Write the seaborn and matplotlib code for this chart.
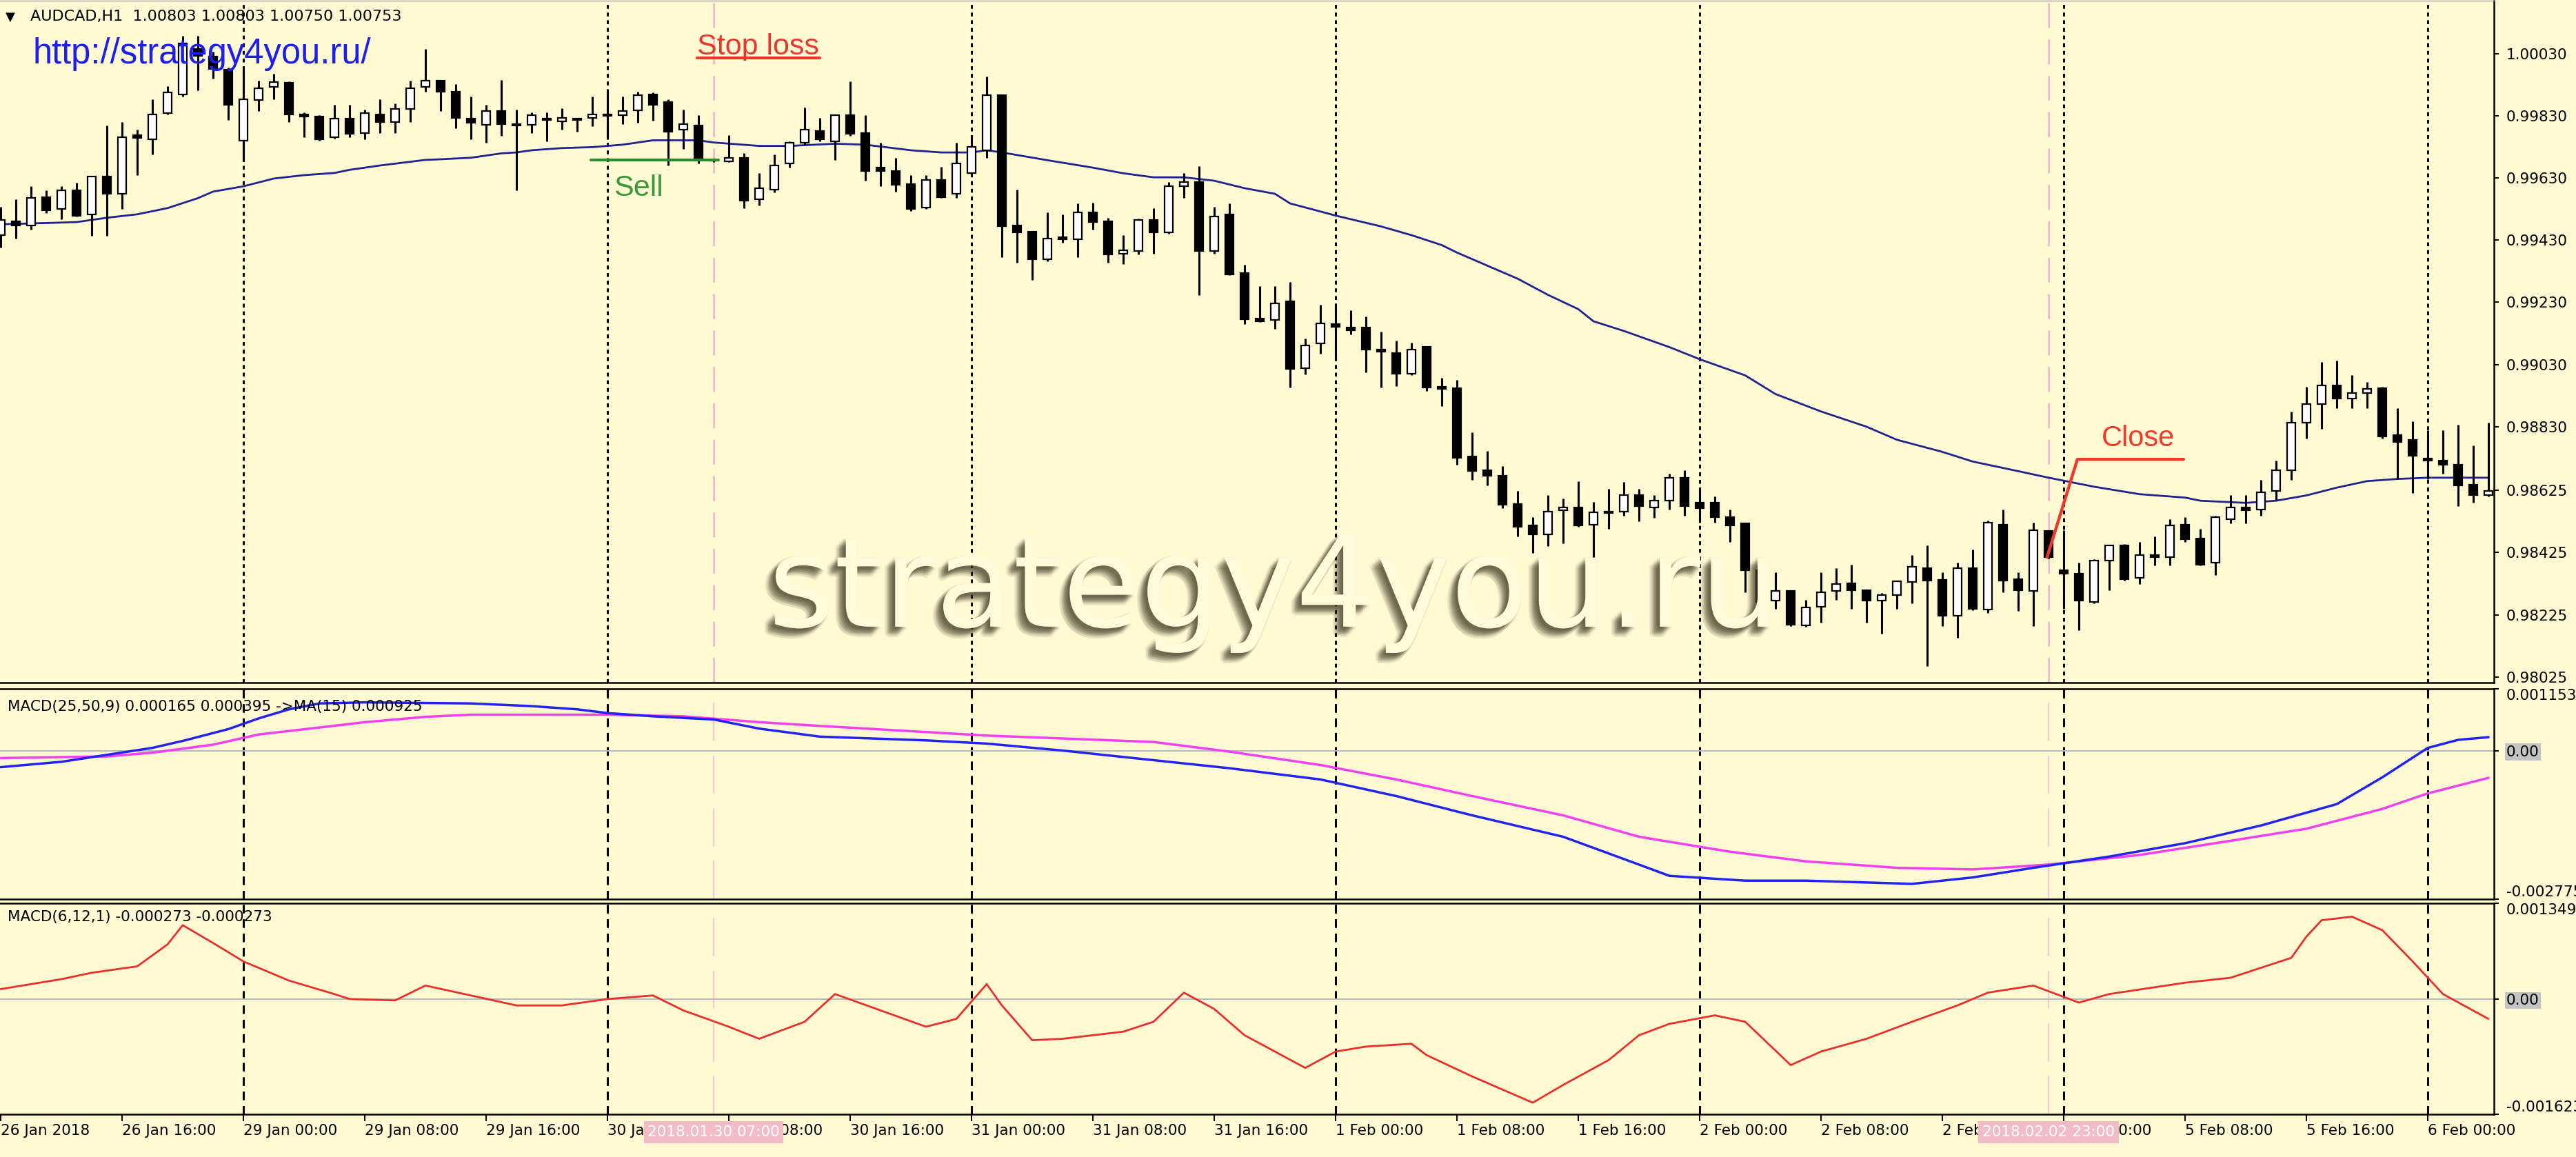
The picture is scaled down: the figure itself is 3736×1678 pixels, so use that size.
import numpy as np
import pandas as pd
import seaborn as sns
import matplotlib.pyplot as plt
import matplotlib.patheffects as pe

sns.set_theme(style="white")
plt.rcParams['font.family'] = ['DejaVu Sans']
plt.rcParams['lines.scale_dashes'] = False

W, H = 3736, 1678
BG = '#FFFAD3'

# AUDCAD H1 bars, bar 0 = 26 Jan 2018 08:00
opens = [0.99446, 0.99491, 0.99477, 0.99568, 0.99530, 0.99590, 0.99512, 0.99635, 0.99579, 0.99768,
         0.99754, 0.99838, 0.99898, 1.00044, 1.00020, 0.99978, 0.99750, 0.99880, 0.99922, 0.99936,
         0.99835, 0.99828, 0.99761, 0.99821, 0.99775, 0.99835, 0.99810, 0.99852, 0.99922, 0.99943,
         0.99908, 0.99821, 0.99800, 0.99845, 0.99803, 0.99800, 0.99821, 0.99813, 0.99821, 0.99824,
         0.99835, 0.99831, 0.99848, 0.99898, 0.99873, 0.99785, 0.99799, 0.99688, 0.99684, 0.99695,
         0.99562, 0.99593, 0.99677, 0.99744, 0.99782, 0.99747, 0.99831, 0.99775, 0.99663, 0.99652,
         0.99611, 0.99534, 0.99624, 0.99579, 0.99645, 0.99719, 0.99897, 0.99477, 0.99457, 0.99369,
         0.99439, 0.99432, 0.99519, 0.99491, 0.99386, 0.99394, 0.99495, 0.99456, 0.99604, 0.99617,
         0.99394, 0.99513, 0.99324, 0.99177, 0.99173, 0.99233, 0.99019, 0.99099, 0.99159, 0.99148,
         0.99148, 0.99079, 0.99068, 0.99001, 0.99086, 0.98959, 0.98953, 0.98735, 0.98690, 0.98673,
         0.98581, 0.98512, 0.98484, 0.98561, 0.98571, 0.98515, 0.98557, 0.98557, 0.98610, 0.98571,
         0.98592, 0.98666, 0.98585, 0.98585, 0.98539, 0.98519, 0.98368, 0.98270, 0.98301, 0.98190,
         0.98252, 0.98301, 0.98326, 0.98305, 0.98270, 0.98288, 0.98330, 0.98375, 0.98337, 0.98221,
         0.98375, 0.98242, 0.98515, 0.98340, 0.98301, 0.98494, 0.98368, 0.98357, 0.98266, 0.98399,
         0.98448, 0.98343, 0.98417, 0.98410, 0.98515, 0.98470, 0.98392, 0.98532, 0.98571, 0.98564,
         0.98623, 0.98690, 0.98844, 0.98903, 0.98963, 0.98921, 0.98939, 0.98953, 0.98802, 0.98788,
         0.98728, 0.98721, 0.98708, 0.98644, 0.98610]
highs = [0.99537, 0.99562, 0.99604, 0.99590, 0.99604, 0.99614, 0.99635, 0.99799, 0.99810, 0.99786,
         0.99884, 0.99926, 1.00086, 1.00086, 1.00037, 0.99985, 0.99985, 0.99943, 0.99964, 0.99940,
         0.99841, 0.99831, 0.99866, 0.99866, 0.99849, 0.99884, 0.99870, 0.99943, 1.00044, 0.99943,
         0.99932, 0.99891, 0.99866, 0.99946, 0.99849, 0.99841, 0.99841, 0.99855, 0.99824, 0.99891,
         0.99915, 0.99891, 0.99908, 0.99904, 0.99884, 0.99849, 0.99831, 0.99691, 0.99768, 0.99709,
         0.99646, 0.99705, 0.99747, 0.99856, 0.99824, 0.99835, 0.99940, 0.99831, 0.99744, 0.99695,
         0.99639, 0.99639, 0.99666, 0.99744, 0.99768, 0.99957, 0.99897, 0.99593, 0.99457, 0.99519,
         0.99513, 0.99548, 0.99551, 0.99502, 0.99446, 0.99499, 0.99533, 0.99617, 0.99646, 0.99667,
         0.99537, 0.99547, 0.99351, 0.99281, 0.99282, 0.99295, 0.99113, 0.99222, 0.99226, 0.99204,
         0.99184, 0.99135, 0.99106, 0.99100, 0.99086, 0.98988, 0.98980, 0.98813, 0.98753, 0.98704,
         0.98624, 0.98539, 0.98610, 0.98599, 0.98655, 0.98588, 0.98630, 0.98652, 0.98630, 0.98610,
         0.98679, 0.98690, 0.98634, 0.98606, 0.98564, 0.98522, 0.98393, 0.98361, 0.98305, 0.98273,
         0.98361, 0.98375, 0.98386, 0.98305, 0.98295, 0.98336, 0.98417, 0.98449, 0.98361, 0.98393,
         0.98435, 0.98529, 0.98564, 0.98361, 0.98522, 0.98497, 0.98497, 0.98393, 0.98403, 0.98448,
         0.98452, 0.98459, 0.98477, 0.98533, 0.98539, 0.98501, 0.98543, 0.98610, 0.98610, 0.98659,
         0.98722, 0.98879, 0.98959, 0.99037, 0.99043, 0.98995, 0.98974, 0.98959, 0.98890, 0.98848,
         0.98819, 0.98819, 0.98837, 0.98770, 0.98844]
lows = [0.99407, 0.99436, 0.99464, 0.99516, 0.99498, 0.99506, 0.99443, 0.99443, 0.99530, 0.99638,
        0.99705, 0.99834, 0.99891, 0.99912, 0.99950, 0.99817, 0.99684, 0.99845, 0.99883, 0.99810,
        0.99761, 0.99750, 0.99757, 0.99761, 0.99754, 0.99775, 0.99775, 0.99810, 0.99908, 0.99845,
        0.99789, 0.99754, 0.99743, 0.99765, 0.99590, 0.99775, 0.99747, 0.99786, 0.99778, 0.99796,
        0.99754, 0.99803, 0.99807, 0.99814, 0.99670, 0.99723, 0.99677, 0.99681, 0.99681, 0.99533,
        0.99541, 0.99583, 0.99663, 0.99737, 0.99747, 0.99687, 0.99765, 0.99621, 0.99603, 0.99586,
        0.99523, 0.99530, 0.99565, 0.99565, 0.99645, 0.99695, 0.99376, 0.99358, 0.99302, 0.99362,
        0.99421, 0.99376, 0.99463, 0.99358, 0.99352, 0.99383, 0.99387, 0.99450, 0.99565, 0.99254,
        0.99386, 0.99317, 0.99159, 0.99166, 0.99145, 0.98956, 0.98998, 0.99065, 0.99047, 0.99127,
        0.99005, 0.98956, 0.98960, 0.98995, 0.98945, 0.98896, 0.98707, 0.98658, 0.98641, 0.98567,
        0.98476, 0.98424, 0.98445, 0.98456, 0.98508, 0.98403, 0.98501, 0.98543, 0.98526, 0.98536,
        0.98564, 0.98543, 0.98522, 0.98522, 0.98459, 0.98298, 0.98242, 0.98245, 0.98189, 0.98186,
        0.98200, 0.98273, 0.98245, 0.98200, 0.98165, 0.98245, 0.98263, 0.98060, 0.98189, 0.98151,
        0.98240, 0.98232, 0.98298, 0.98238, 0.98189, 0.98407, 0.98245, 0.98175, 0.98263, 0.98305,
        0.98336, 0.98323, 0.98385, 0.98385, 0.98459, 0.98385, 0.98354, 0.98519, 0.98519, 0.98543,
        0.98595, 0.98658, 0.98792, 0.98823, 0.98889, 0.98890, 0.98890, 0.98792, 0.98662, 0.98616,
        0.98662, 0.98679, 0.98574, 0.98585, 0.98606]
closes = [0.99495, 0.99477, 0.99565, 0.99527, 0.99590, 0.99509, 0.99635, 0.99579, 0.99761, 0.99758,
          0.99834, 0.99904, 1.00062, 1.00023, 0.99981, 0.99866, 0.99883, 0.99918, 0.99939, 0.99834,
          0.99828, 0.99754, 0.99821, 0.99772, 0.99838, 0.99810, 0.99852, 0.99919, 0.99943, 0.99908,
          0.99824, 0.99807, 0.99845, 0.99803, 0.99799, 0.99831, 0.99817, 0.99824, 0.99817, 0.99835,
          0.99830, 0.99845, 0.99897, 0.99866, 0.99779, 0.99803, 0.99688, 0.99686, 0.99695, 0.99558,
          0.99596, 0.99670, 0.99743, 0.99786, 0.99754, 0.99831, 0.99771, 0.99652, 0.99653, 0.99607,
          0.99530, 0.99624, 0.99569, 0.99677, 0.99730, 0.99897, 0.99474, 0.99456, 0.99369, 0.99435,
          0.99432, 0.99519, 0.99488, 0.99383, 0.99397, 0.99495, 0.99456, 0.99604, 0.99617, 0.99394,
          0.99506, 0.99320, 0.99176, 0.99170, 0.99226, 0.99016, 0.99092, 0.99163, 0.99152, 0.99141,
          0.99079, 0.99072, 0.99001, 0.99079, 0.98956, 0.98952, 0.98729, 0.98687, 0.98673, 0.98578,
          0.98508, 0.98483, 0.98557, 0.98571, 0.98512, 0.98554, 0.98553, 0.98610, 0.98575, 0.98592,
          0.98666, 0.98575, 0.98568, 0.98539, 0.98512, 0.98368, 0.98266, 0.98301, 0.98193, 0.98249,
          0.98298, 0.98323, 0.98305, 0.98270, 0.98288, 0.98333, 0.98379, 0.98336, 0.98221, 0.98375,
          0.98245, 0.98522, 0.98336, 0.98305, 0.98497, 0.98410, 0.98357, 0.98270, 0.98399, 0.98448,
          0.98340, 0.98417, 0.98410, 0.98512, 0.98469, 0.98386, 0.98540, 0.98571, 0.98561, 0.98620,
          0.98690, 0.98844, 0.98903, 0.98963, 0.98921, 0.98938, 0.98952, 0.98798, 0.98781, 0.98736,
          0.98721, 0.98708, 0.98641, 0.98610, 0.98623]

# moving average (bar index, price)
ma_x = [0, 3, 5, 7, 9, 11, 13, 14, 16, 18, 20, 22, 23, 25, 28, 29, 31, 33, 34, 35,
        37, 39, 41, 43, 46, 47, 50, 52, 55, 57, 60, 62, 64, 65, 66, 69, 72, 74, 76, 78,
        80, 82, 84, 85, 88, 91, 93, 95, 96, 98, 100, 102, 104, 105, 107, 110, 112, 115, 117, 120,
        123, 125, 128, 130, 133, 135, 138, 141, 144, 145, 148, 150, 152, 154, 156, 158, 160, 164]
ma_y = [0.99481, 0.99485, 0.99488, 0.99502, 0.99513, 0.99533, 0.99565, 0.99586, 0.99603, 0.99628,
        0.99639, 0.99646, 0.99656, 0.99670, 0.99688, 0.99690, 0.99695, 0.99709, 0.99712, 0.99719,
        0.99726, 0.99729, 0.99737, 0.99751, 0.99751, 0.99744, 0.99733, 0.99733, 0.99740, 0.99737,
        0.99719, 0.99712, 0.99712, 0.99719, 0.99712, 0.99687, 0.99663, 0.99645, 0.99632, 0.99632,
        0.99621, 0.99597, 0.99579, 0.99548, 0.99509, 0.99474, 0.99446, 0.99414, 0.99390, 0.99348,
        0.99306, 0.99254, 0.99208, 0.99169, 0.99138, 0.99086, 0.99047, 0.98995, 0.98935, 0.98879,
        0.98830, 0.98788, 0.98749, 0.98718, 0.98687, 0.98666, 0.98637, 0.98613, 0.98602, 0.98592,
        0.98585, 0.98592, 0.98609, 0.98634, 0.98655, 0.98662, 0.98666, 0.98666]

# MACD(25,50,9): main line and signal
macd_x = [0, 4, 7, 10, 12, 15, 17, 19, 21, 24, 31, 35, 38, 40, 43, 47, 50, 54, 56, 61,
          65, 70, 76, 81, 87, 92, 97, 103, 108, 110, 115, 119, 126, 130, 134, 139, 144, 149, 154, 157,
          160, 162, 164]
macd_y = [-0.00031, -0.00021, -0.00008, 0.00005, 0.00018, 0.00040, 0.00060, 0.00077, 0.00088, 0.00090,
          0.00088, 0.00083, 0.00077, 0.00070, 0.00064, 0.00058, 0.00041, 0.00026, 0.00024, 0.00019,
          0.00013, 0.00000, -0.00018, -0.00033, -0.00054, -0.00085, -0.00121, -0.00161, -0.00213, -0.00234,
          -0.00243, -0.00243, -0.00249, -0.00237, -0.00219, -0.00198, -0.00173, -0.00140, -0.00100, -0.00050,
          0.00005, 0.00020, 0.00025]
sig_x = [0, 7, 10, 14, 17, 21, 24, 28, 31, 40, 45, 50, 54, 65, 76, 81, 87, 92, 97, 103,
         108, 114, 119, 125, 130, 135, 141, 146, 152, 157, 160, 164]
sig_y = [-0.00014, -0.00011, -0.00004, 0.00011, 0.00030, 0.00043, 0.00053, 0.00063, 0.00067, 0.00067,
         0.00064, 0.00053, 0.00046, 0.00028, 0.00016, -0.00002, -0.00027, -0.00054, -0.00085, -0.00121,
         -0.00161, -0.00189, -0.00207, -0.00219, -0.00222, -0.00213, -0.00195, -0.00173, -0.00146, -0.00109,
         -0.00080, -0.00051]

# MACD(6,12,1)
fast_x = [0, 4, 6, 9, 11, 12, 14, 16, 19, 22, 23, 26, 28, 31, 34, 37, 40, 43, 45, 48,
          50, 53, 55, 58, 61, 63, 65, 66, 68, 70, 74, 76, 78, 80, 82, 86, 88, 90, 93, 94,
          97, 101, 103, 106, 108, 110, 113, 115, 118, 120, 123, 126, 129, 131, 134, 137, 139, 144,
          147, 151, 152, 153, 155, 157, 159, 161, 164]
fast_y = [0.00014, 0.00028, 0.00037, 0.00046, 0.00077, 0.00104, 0.00079, 0.00053, 0.00026, 0.00007,
          0.00000, -0.00002, 0.00019, 0.00005, -0.00009, -0.00009, 0.00000, 0.00005, -0.00016, -0.00039,
          -0.00056, -0.00032, 0.00007, -0.00016, -0.00039, -0.00028, 0.00021, -0.00009, -0.00058, -0.00056,
          -0.00046, -0.00032, 0.00009, -0.00014, -0.00051, -0.00097, -0.00074, -0.00067, -0.00063, -0.00079,
          -0.00109, -0.00146, -0.00121, -0.00086, -0.00051, -0.00035, -0.00023, -0.00032, -0.00093, -0.00074,
          -0.00056, -0.00032, -0.00009, 0.00009, 0.00019, -0.00005, 0.00007, 0.00023,
          0.00030, 0.00058, 0.00088, 0.00111, 0.00116, 0.00097, 0.00053, 0.00007, -0.00028]

price_ticks = [1.00030, 0.99830, 0.99630, 0.99430, 0.99230, 0.99030, 0.98830, 0.98625, 0.98425, 0.98225, 0.98025]
date_pos = list(range(0, 161, 8))
date_labels = ['26 Jan 2018', '26 Jan 16:00', '29 Jan 00:00', '29 Jan 08:00', '29 Jan 16:00',
               '30 Jan 00:00', '30 Jan 08:00', '30 Jan 16:00', '31 Jan 00:00', '31 Jan 08:00',
               '31 Jan 16:00', '1 Feb 00:00', '1 Feb 08:00', '1 Feb 16:00', '2 Feb 00:00',
               '2 Feb 08:00', '2 Feb 16:00', '5 Feb 00:00', '5 Feb 08:00', '5 Feb 16:00', '6 Feb 00:00']
day_sep = [16, 40, 64, 88, 112, 136, 160]
trade_marks = [47, 135]
trade_labels = ['2018.01.30 07:00', '2018.02.02 23:00']

# trade annotations
sell_x, sell_y = [38.9, 47.3], [0.99687, 0.99687]
close_x, close_y = [134.9, 136.9, 143.9], [0.98410, 0.98725, 0.98725]
stop_line_x, stop_line_y = [45.9, 54.0], [1.00016, 1.00016]

df = pd.DataFrame({'open': opens, 'high': highs, 'low': lows, 'close': closes})
df['x'] = np.arange(len(df))
bull = df['close'] >= df['open']

fig = plt.figure(figsize=(W / 100, H / 100), dpi=100, facecolor=BG)


def rect(top, bottom):
    return [0, 1 - bottom / H, 3617 / W, (bottom - top) / H]


ax = fig.add_axes(rect(1, 990))
ax1 = fig.add_axes(rect(999, 1304))
ax2 = fig.add_axes(rect(1310, 1616))

for a in (ax, ax1, ax2):
    a.set_facecolor(BG)
    a.set_xlim(-0.045, 164.36)
    a.grid(False)
    for s in a.spines.values():
        s.set_color('black')
        s.set_linewidth(1.8)
    a.spines['left'].set_visible(False)
    a.yaxis.tick_right()
    a.tick_params(axis='y', direction='out', length=5, width=1.5, pad=8,
                  labelsize=15.5, colors='black', left=False, right=True)
ax.spines['top'].set_color('#A0A0A0')
ax.spines['top'].set_linewidth(1)

# ---- price panel
ax.set_ylim(0.98007, 1.00200)
for sx in day_sep:
    ax.axvline(sx, color='black', lw=2.2, dashes=(4, 4), zorder=1)
    ax1.axvline(sx, color='black', lw=2.2, dashes=(9, 6), zorder=1)
    ax2.axvline(sx, color='black', lw=2.2, dashes=(9, 6), zorder=1)
for tx in trade_marks:
    ax.axvline(tx, color='#F4B9C8', lw=2, dashes=(26, 12), zorder=1)
    ax1.axvline(tx, color='#F4C8D2', lw=1.5, dashes=(40, 15), zorder=1)
    ax2.axvline(tx, color='#F4C8D2', lw=1.5, dashes=(40, 15), zorder=1)

sns.lineplot(x=ma_x, y=ma_y, ax=ax, color='#22228E', linewidth=2, estimator=None, sort=False, zorder=2)
ax.vlines(df['x'], df['low'], df['high'], color='black', lw=2.2, zorder=3)
ax.bar(df['x'], (df['close'] - df['open']).abs(), bottom=df[['open', 'close']].min(axis=1),
       width=0.56, color=np.where(bull, 'white', 'black'), edgecolor='black', linewidth=1.6, zorder=4)

ax.set_yticks(price_ticks)
ax.set_yticklabels([f'{v:.5f}' for v in price_ticks])
ax.set_xticks([])

# watermark with a soft dark shadow
shadow = [pe.SimplePatchShadow(offset=(dx, dy), shadow_rgbFace='#3C3822', alpha=0.08)
          for dx, dy in [(-2, -2), (-3, -3), (-4, -4), (-5, -5), (-6, -6), (-7, -7), (-8, -8),
                         (-5, -2), (-2, -5), (-7, -4), (-4, -7), (-9, -6), (-6, -9), (-10, -10),
                         (0, -3), (-3, 0), (-11, -8), (-8, -11)]]
ax.text(50.6, 0.98187, 'strategy4you.ru', fontsize=132, color='#FFFBDA', ha='left', va='baseline',
        family=['DejaVu Sans'], zorder=6, path_effects=shadow + [pe.Normal()])

# annotations
ax.plot(sell_x, sell_y, color='#2F8A2A', lw=3, zorder=5)
ax.text(40.4, 0.99573, 'Sell', fontsize=31, color='#3A9A3A', family=['Liberation Sans'],
        va='baseline', zorder=5)
ax.text(45.9, 1.00027, 'Stop loss', fontsize=31, color='#E8382E', family=['Liberation Sans'],
        va='baseline', zorder=5)
ax.plot(stop_line_x, stop_line_y, color='#E8382E', lw=3, zorder=5)
ax.plot(close_x, close_y, color='#EE3A2C', lw=3.2, zorder=5)
ax.text(138.5, 0.98768, 'Close', fontsize=30, color='#EE3A2C', family=['Liberation Sans'],
        va='baseline', zorder=5)
ax.text(2.1, 0.99999, 'http://strategy4you.ru/', fontsize=36.5, color='#1E1EF0',
        family=['Liberation Sans'], va='baseline', zorder=7)
fig.text(8 / W, 1 - 30 / H, '\u25BC', fontsize=13, color='black', va='baseline')
fig.text(44 / W, 1 - 30 / H, 'AUDCAD,H1  1.00803 1.00803 1.00750 1.00753', fontsize=16,
         color='black', va='baseline')

# ---- MACD(25,50,9)
ax1.set_ylim(-0.002775, 0.001153)
ax1.axhline(0, color='#B8B8B8', lw=1.5, zorder=1)
sns.lineplot(x=macd_x, y=macd_y, ax=ax1, color='#2323F0', linewidth=2.5, estimator=None, sort=False, zorder=3)
sns.lineplot(x=sig_x, y=sig_y, ax=ax1, color='#F040F0', linewidth=2.5, estimator=None, sort=False, zorder=2)
ax1.set_yticks([0.001153, 0.0, -0.002775])
ax1.set_yticklabels(['0.001153', '0.00', '-0.002775'])
ax1.set_xticks([])
ax1.text(0.003, 0.915, 'MACD(25,50,9) 0.000165 0.000395 ->MA(15) 0.000925', transform=ax1.transAxes,
         fontsize=15.5, color='black', va='center', zorder=5)

# ---- MACD(6,12,1)
ax2.set_ylim(-0.001623, 0.001349)
ax2.axhline(0, color='#B8B8B8', lw=1.5, zorder=1)
sns.lineplot(x=fast_x, y=fast_y, ax=ax2, color='#E8302A', linewidth=2, estimator=None, sort=False, zorder=3)
ax2.set_yticks([0.001349, 0.0, -0.001623])
ax2.set_yticklabels(['0.001349', '0.00', '-0.001623'])
ax2.text(0.003, 0.935, 'MACD(6,12,1) -0.000273 -0.000273', transform=ax2.transAxes,
         fontsize=15.5, color='black', va='center', zorder=5)

for a in (ax1, ax2):
    labs = a.get_yticklabels()
    labs[0].set_verticalalignment('top')
    labs[2].set_verticalalignment('bottom')
    labs[1].set_bbox(dict(facecolor='#C4C4C4', edgecolor='none', pad=1.5))

ax2.set_xticks(date_pos)
ax2.set_xticklabels(date_labels)
ax2.tick_params(axis='x', direction='out', length=7, width=1.5, pad=3, labelsize=15.5,
                colors='black', bottom=True)
for lab in ax2.get_xticklabels():
    lab.set_horizontalalignment('left')

for tx, tl in zip(trade_marks, trade_labels):
    ax2.text(tx, -0.085, tl, transform=ax2.get_xaxis_transform(), ha='center', va='center',
             fontsize=15.5, color='white', clip_on=False, zorder=10,
             bbox=dict(facecolor='#F2BCC6', edgecolor='none', pad=4))

for a in (ax, ax1, ax2):
    a.set_xlabel('')
    a.set_ylabel('')

fig.savefig('out.png', dpi=100, facecolor=BG)
